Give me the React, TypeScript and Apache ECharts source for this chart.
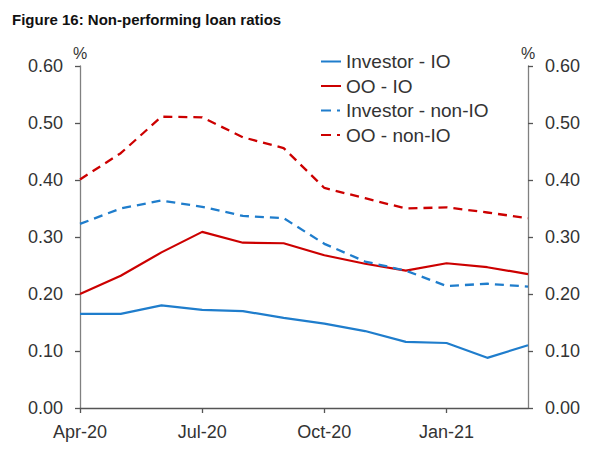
import React, { useEffect, useRef } from "react";
import * as echarts from "echarts";

const titleText = "Figure 16: Non-performing loan ratios";
const categories = ["Apr-20", "May-20", "Jun-20", "Jul-20", "Aug-20", "Sep-20", "Oct-20", "Nov-20", "Dec-20", "Jan-21", "Feb-21", "Mar-21"];
const seriesNames = ["Investor - IO", "OO - IO", "Investor - non-IO", "OO - non-IO"];
const investorIO = [0.165, 0.165, 0.18, 0.172, 0.17, 0.158, 0.148, 0.135, 0.116, 0.114, 0.088, 0.11];
const ooIO = [0.2, 0.232, 0.273, 0.309, 0.29, 0.289, 0.268, 0.253, 0.241, 0.254, 0.247, 0.235];
const investorNonIO = [0.323, 0.35, 0.364, 0.353, 0.337, 0.333, 0.288, 0.257, 0.241, 0.214, 0.218, 0.213];
const ooNonIO = [0.401, 0.447, 0.511, 0.51, 0.475, 0.456, 0.386, 0.368, 0.35, 0.352, 0.343, 0.333];
const yMin = 0;
const yMax = 0.6;
const yStep = 0.1;

const BLUE = "#1f7dcc";
const RED = "#cc0000";
const FONT = "Liberation Sans, Arial, sans-serif";
const TXT = "#333333";
const AXIS = "#808080";
const SOLID_ICON = "path://M0,0 L20,0 L20,2 L0,2 Z";
const DASH_ICON = "path://M0,0 L10,0 L10,2 L0,2 Z M16,0 L19,0 L19,2 L16,2 Z M0,0 L20,0 L20,0.01 L0,0.01 Z";

export default function App() {
  const ref = useRef<HTMLDivElement>(null);
  useEffect(() => {
    document.body.style.margin = "0";
    const chart = echarts.init(ref.current!, null, { renderer: "svg" });
    const yAxisCommon = (position: "left" | "right") => ({
      type: "value" as const,
      position,
      min: yMin,
      max: yMax,
      interval: yStep,
      name: "%",
      nameLocation: "end" as const,
      nameGap: 5,
      nameTextStyle: { fontFamily: FONT, fontSize: 16, color: TXT, align: "center" },
      axisLine: { show: true, lineStyle: { color: AXIS, width: 1.3 } },
      axisTick: { show: true, length: 5, inside: false, lineStyle: { color: "#555", width: 1.3 } },
      axisLabel: {
        margin: 17,
        fontFamily: FONT,
        fontSize: 18,
        color: TXT,
        formatter: (v: number) => v.toFixed(2),
      },
      splitLine: { show: false },
    });
    const mk = (name: string, data: number[], color: string, dashed: boolean) => ({
      name,
      type: "line" as const,
      data,
      symbol: "none",
      showSymbol: false,
      lineStyle: dashed
        ? { color, width: 2.3, type: [9, 6] as any }
        : { color, width: 2.2, type: "solid" as const },
      itemStyle: { color },
    });
    chart.setOption({
      animation: false,
      backgroundColor: "#ffffff",
      title: {
        text: titleText,
        left: 12,
        top: 12,
        padding: 0,
        textStyle: { fontFamily: FONT, fontSize: 15, fontWeight: "bold", color: "#111111" },
      },
      legend: {
        orient: "vertical",
        left: 321,
        top: 52,
        padding: 0,
        itemWidth: 20,
        itemHeight: 2.3,
        itemGap: 5.5,
        data: [
          { name: seriesNames[0], icon: SOLID_ICON },
          { name: seriesNames[1], icon: SOLID_ICON },
          { name: seriesNames[2], icon: DASH_ICON },
          { name: seriesNames[3], icon: DASH_ICON },
        ],
        textStyle: { fontFamily: FONT, fontSize: 19, color: TXT, lineHeight: 18 },
      },
      grid: { left: 80, right: 73, top: 66, bottom: 63, containLabel: false },
      xAxis: {
        type: "category",
        data: categories,
        boundaryGap: false,
        axisLine: { show: true, onZero: false, lineStyle: { color: "#555", width: 1.3 } },
        axisTick: {
          show: true,
          length: 5,
          interval: (i: number) => i % 3 === 0,
          lineStyle: { color: "#555", width: 1.3 },
        },
        axisLabel: {
          interval: (i: number) => i % 3 === 0,
          margin: 15,
          fontFamily: FONT,
          fontSize: 18,
          color: TXT,
        },
        splitLine: { show: false },
      },
      yAxis: [yAxisCommon("left"), yAxisCommon("right")],
      series: [
        mk(seriesNames[0], investorIO, BLUE, false),
        mk(seriesNames[1], ooIO, RED, false),
        mk(seriesNames[2], investorNonIO, BLUE, true),
        mk(seriesNames[3], ooNonIO, RED, true),
      ],
    });
    return () => chart.dispose();
  }, []);
  return <div ref={ref} style={{ position: "absolute", left: 0, top: 0, width: 601, height: 471 }} />;
}
